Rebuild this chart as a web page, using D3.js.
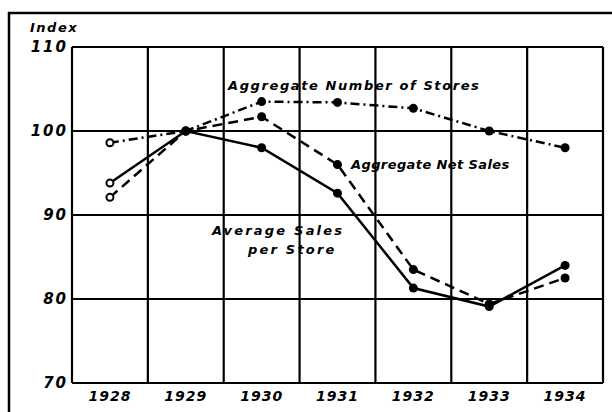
<!DOCTYPE html>
<html lang="en">
<head>
<meta charset="utf-8">
<title>Index chart 1928-1934</title>
<style>
  body { margin: 0; background: #fff; }
  svg { display: block; }
  text { font-family: "DejaVu Sans", sans-serif; font-weight: bold; font-style: italic; fill: #000; }
</style>
</head>
<body>
<svg id="chart" width="612" height="412"></svg>
<script src="https://cdn.jsdelivr.net/npm/d3@7/dist/d3.min.js"></script>
<script>
const years = ["1928", "1929", "1930", "1931", "1932", "1933", "1934"];
const yTicks = [70, 80, 90, 100, 110];

// values (index, 1929 = 100)
const averageSales = [93.8, 100, 98.0, 92.6, 81.3, 79.1, 84.0];
const netSales     = [92.1, 100, 101.7, 96.0, 83.5, 79.4, 82.5];
const storeCount   = [98.6, 100, 103.5, 103.4, 102.7, 100.0, 98.0];

const series = [
  { name: "avg", values: averageSales, dash: null },
  { name: "net", values: netSales, dash: "10,6" },
  { name: "stores", values: storeCount, dash: "9,4,2,4" }
];

const plotLeft = 72, plotRight = 603, plotTop = 47, plotBottom = 383;

const svg = d3.select("#chart");

const x = d3.scaleBand().domain(years).range([plotLeft, plotRight]).padding(0);
const y = d3.scaleLinear().domain([70, 110]).range([plotBottom, plotTop]);
const cx = d => x(d) + x.bandwidth() / 2;

// outer frame (right/bottom run off the page)
svg.append("rect")
  .attr("x", 9).attr("y", 13)
  .attr("width", 640).attr("height", 440)
  .attr("fill", "none").attr("stroke", "#000").attr("stroke-width", 2.5);

// grid
svg.append("g").selectAll("line")
  .data(yTicks)
  .join("line")
  .attr("x1", plotLeft).attr("x2", plotRight)
  .attr("y1", d => y(d)).attr("y2", d => y(d))
  .attr("stroke", "#000").attr("stroke-width", 2.2);

const xEdges = years.map(d => x(d)).concat([plotRight]);
svg.append("g").selectAll("line")
  .data(xEdges)
  .join("line")
  .attr("x1", d => d).attr("x2", d => d)
  .attr("y1", plotTop).attr("y2", plotBottom)
  .attr("stroke", "#000").attr("stroke-width", 2.2);

// y tick labels
svg.append("g").selectAll("text")
  .data(yTicks)
  .join("text")
  .attr("x", plotLeft - 4)
  .attr("y", d => y(d))
  .attr("dy", "0.36em")
  .attr("text-anchor", "end")
  .attr("font-size", 15)
  .attr("letter-spacing", 2)
  .text(d => d);

svg.append("text")
  .attr("x", 30).attr("y", 32)
  .attr("font-size", 13)
  .attr("letter-spacing", 1.5)
  .text("Index");

// x labels
svg.append("g").selectAll("text")
  .data(years)
  .join("text")
  .attr("x", d => cx(d))
  .attr("y", 396)
  .attr("dy", "0.36em")
  .attr("text-anchor", "middle")
  .attr("font-size", 14)
  .attr("letter-spacing", 1)
  .text(d => d);

// lines
const line = d3.line()
  .x((v, i) => cx(years[i]))
  .y(v => y(v));

series.forEach(s => {
  svg.append("path")
    .datum(s.values)
    .attr("d", line)
    .attr("fill", "none")
    .attr("stroke", "#000")
    .attr("stroke-width", 2.5)
    .attr("stroke-dasharray", s.dash);

  svg.append("g").selectAll("circle")
    .data(s.values)
    .join("circle")
    .attr("cx", (v, i) => cx(years[i]))
    .attr("cy", v => y(v))
    .attr("r", (v, i) => i === 0 ? 3.5 : 4.5)
    .attr("fill", (v, i) => i === 0 ? "#fff" : "#000")
    .attr("stroke", "#000")
    .attr("stroke-width", (v, i) => i === 0 ? 2 : 0);
});

// series labels
const labels = [
  { text: "Aggregate Number of Stores", x: 228, y: 90, sp: 1.6 },
  { text: "Aggregate Net Sales", x: 351, y: 169, sp: 0.4 },
  { text: "Average Sales", x: 212, y: 235, sp: 2.2 },
  { text: "per Store", x: 248, y: 254, sp: 2.2 }
];
svg.append("g").selectAll("text")
  .data(labels)
  .join("text")
  .attr("x", d => d.x).attr("y", d => d.y)
  .attr("font-size", 13)
  .attr("letter-spacing", d => d.sp)
  .text(d => d.text);
</script>
</body>
</html>
